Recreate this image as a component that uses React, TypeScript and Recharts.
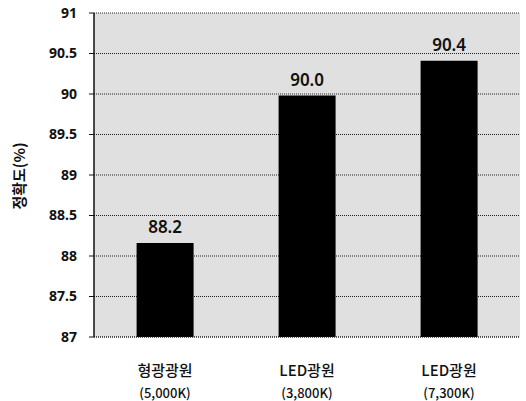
import { BarChart, Bar, XAxis, YAxis, CartesianGrid, LabelList } from 'recharts';

// 광원 종류
const SOURCES = ['형광광원', 'LED광원', 'LED광원'];
const TEMPS = ['(5,000K)', '(3,800K)', '(7,300K)'];
// 정확도 (%)
const ACCURACY = [88.16, 89.98, 90.41];
const VALUE_LABELS = ['88.2', '90.0', '90.4'];
const Y_TICKS = [87, 87.5, 88, 88.5, 89, 89.5, 90, 90.5, 91];

const data = SOURCES.map((name, i) => ({
  name,
  temp: TEMPS[i],
  value: ACCURACY[i],
  label: VALUE_LABELS[i],
}));

const KR_FONT = '"Noto Sans CJK KR", "Noto Sans", sans-serif';

function SourceTick({ x, y, payload, index }: any) {
  return (
    <g>
      <text x={x} y={y + 31} textAnchor="middle" fontFamily={KR_FONT} fontSize={15} fontWeight={500} fill="#111">
        {payload.value}
      </text>
      <text x={x} y={y + 53} textAnchor="middle" fontFamily={KR_FONT} fontSize={13} fontWeight={500} fill="#111">
        {TEMPS[index]}
      </text>
    </g>
  );
}

export default function App() {
  return (
    <div style={{ position: 'absolute', left: 0, top: 0, background: '#fff' }}>
      <BarChart
        width={526}
        height={401}
        data={data}
        margin={{ top: 13, right: 6, left: 0, bottom: 0 }}
        barCategoryGap="30%"
      >
        <CartesianGrid
          vertical={false}
          stroke="#222"
          strokeDasharray="1 1"
          fill="#e0e0e0"
        />
        <XAxis
          dataKey="name"
          height={64}
          tickLine={false}
          axisLine={{ stroke: '#222', strokeDasharray: '1 1' }}
          tick={<SourceTick />}
          interval={0}
        />
        <YAxis
          domain={[87, 91]}
          ticks={Y_TICKS}
          width={94}
          tickSize={5}
          tickMargin={12}
          tickFormatter={(v: number) => String(v)}
          axisLine={{ stroke: '#111', strokeWidth: 1.5 }}
          tickLine={{ stroke: '#111' }}
          tick={{ fontFamily: '"Noto Sans", sans-serif', fontSize: 14, fontWeight: 700, fill: '#111' }}
          label={{
            content: () => (
              <text
                x={21}
                y={176}
                transform="rotate(-90 21 176)"
                textAnchor="middle"
                dominantBaseline="middle"
                fontFamily={KR_FONT}
                fontSize={15}
                fontWeight={700}
                fill="#111"
              >
                정확도(%)
              </text>
            ),
          }}
        />
        <YAxis
          yAxisId="right"
          orientation="right"
          domain={[87, 91]}
          width={0}
          tick={false}
          tickLine={false}
          axisLine={{ stroke: '#222', strokeDasharray: '1 1' }}
        />
        <Bar dataKey="value" fill="#000" isAnimationActive={false}>
          <LabelList
            dataKey="label"
            position="top"
            offset={10}
            fontFamily='"Noto Sans", sans-serif'
            fontSize={17}
            fontWeight={600}
            fill="#111"
          />
        </Bar>
      </BarChart>
    </div>
  );
}
